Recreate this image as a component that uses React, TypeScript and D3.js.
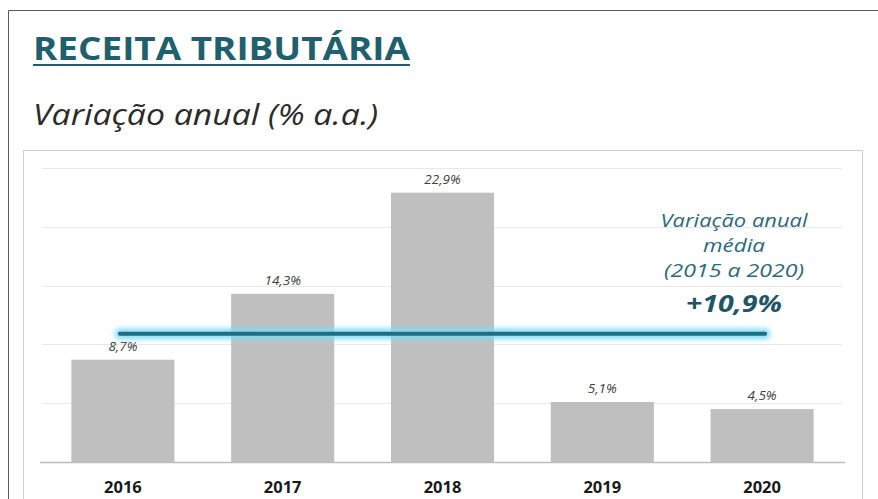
import { useEffect, useRef } from 'react';
import * as d3 from 'd3';

const years = ['2016', '2017', '2018', '2019', '2020'];
const growth = [8.7, 14.3, 22.9, 5.1, 4.5];
const gridTicks = [0, 5, 10, 15, 20, 25];
const averageGrowth = 10.9;
const noteLines = ['Variação anual', 'média', '(2015 a 2020)'];

const W = 878;
const H = 499;
const fmt = (v: number) => v.toFixed(1).replace('.', ',') + '%';

export default function App() {
  const svgRef = useRef<SVGSVGElement | null>(null);

  useEffect(() => {
    const svg = d3.select(svgRef.current);
    svg.selectAll('*').remove();

    svg.append('rect').attr('width', W).attr('height', H).attr('fill', '#ffffff');

    // outer frame (left + top)
    svg.append('path')
      .attr('d', `M8.5,${H} V10.5 H${W}`)
      .attr('fill', 'none')
      .attr('stroke', '#5a5a5a')
      .attr('stroke-width', 1);

    // title
    svg.append('text')
      .attr('x', 33)
      .attr('y', 60)
      .attr('fill', '#1f5f6e')
      .style('font-family', '"Open Sans", sans-serif')
      .style('font-weight', '700')
      .style('font-size', '33px')
      .attr('textLength', 377)
      .attr('lengthAdjust', 'spacingAndGlyphs')
      .text('RECEITA TRIBUTÁRIA');
    svg.append('line')
      .attr('x1', 33).attr('x2', 410)
      .attr('y1', 65).attr('y2', 65)
      .attr('stroke', '#1f5f6e')
      .attr('stroke-width', 2);

    svg.append('text')
      .attr('x', 33)
      .attr('y', 125)
      .attr('fill', '#2b2b2b')
      .style('font-family', '"Open Sans", sans-serif')
      .style('font-style', 'italic')
      .style('font-weight', '400')
      .style('font-size', '29px')
      .attr('textLength', 345)
      .attr('lengthAdjust', 'spacingAndGlyphs')
      .text('Variação anual (% a.a.)');

    // inner chart panel
    svg.append('rect')
      .attr('x', 23.5).attr('y', 150.5)
      .attr('width', 839).attr('height', H)
      .attr('fill', '#ffffff')
      .attr('stroke', '#cfcfcf')
      .attr('stroke-width', 1);

    const x = d3.scaleBand<string>()
      .domain(years)
      .range([43, 842])
      .paddingInner(0.355)
      .paddingOuter(0.1775);

    const y = d3.scaleLinear().domain([0, 25]).range([462, 168]);

    svg.append('g')
      .selectAll('line')
      .data(gridTicks.filter(t => t > 0))
      .join('line')
      .attr('x1', 43).attr('x2', 842)
      .attr('y1', d => Math.round(y(d)) + 0.5)
      .attr('y2', d => Math.round(y(d)) + 0.5)
      .attr('stroke', '#e8e8e8')
      .attr('stroke-width', 1);

    svg.append('g')
      .selectAll('rect')
      .data(growth)
      .join('rect')
      .attr('x', (d, i) => x(years[i])!)
      .attr('y', d => y(d))
      .attr('width', x.bandwidth())
      .attr('height', d => y(0) - y(d))
      .attr('fill', '#bfbfbf');

    // baseline
    svg.append('line')
      .attr('x1', 40).attr('x2', 845)
      .attr('y1', y(0) + 0.5).attr('y2', y(0) + 0.5)
      .attr('stroke', '#bdbdbd')
      .attr('stroke-width', 1.5);

    svg.append('g')
      .selectAll('text')
      .data(growth)
      .join('text')
      .attr('x', (d, i) => x(years[i])! + x.bandwidth() / 2)
      .attr('y', d => y(d) - 9)
      .attr('text-anchor', 'middle')
      .attr('fill', '#404040')
      .style('font-family', '"Open Sans", sans-serif')
      .style('font-style', 'italic')
      .style('font-size', '13.5px')
      .text(d => fmt(d));

    svg.append('g')
      .selectAll('text')
      .data(years)
      .join('text')
      .attr('x', d => x(d)! + x.bandwidth() / 2)
      .attr('y', 493)
      .attr('text-anchor', 'middle')
      .attr('fill', '#1a1a1a')
      .style('font-family', '"Open Sans", sans-serif')
      .style('font-weight', '700')
      .style('font-size', '16.5px')
      .text(d => d);

    // average line with glow
    const defs = svg.append('defs');
    const blur = defs.append('filter').attr('id', 'glow')
      .attr('filterUnits', 'userSpaceOnUse')
      .attr('x', 0).attr('y', 300).attr('width', W).attr('height', 70);
    blur.append('feGaussianBlur').attr('stdDeviation', 2.5);

    const ax1 = x(years[0])! + x.bandwidth() / 2 - 3;
    const ax2 = x(years[years.length - 1])! + x.bandwidth() / 2 + 3;
    const ay = y(averageGrowth);
    svg.append('line')
      .attr('x1', ax1).attr('x2', ax2)
      .attr('y1', ay).attr('y2', ay)
      .attr('stroke', '#7fdcf5')
      .attr('stroke-width', 11)
      .attr('stroke-linecap', 'round')
      .attr('opacity', 0.9)
      .attr('filter', 'url(#glow)');
    svg.append('line')
      .attr('x1', ax1).attr('x2', ax2)
      .attr('y1', ay).attr('y2', ay)
      .attr('stroke', '#1e6f84')
      .attr('stroke-width', 4)
      .attr('stroke-linecap', 'round');

    // annotation
    const noteX = 734;
    svg.append('g')
      .selectAll('text')
      .data(noteLines)
      .join('text')
      .attr('x', noteX)
      .attr('y', (d, i) => 227 + i * 25)
      .attr('text-anchor', 'middle')
      .attr('fill', '#2a6a7d')
      .style('font-family', '"Open Sans", sans-serif')
      .style('font-style', 'italic')
      .style('font-weight', '400')
      .style('font-size', '19px')
      .attr('textLength', (d, i) => [147, 62, 140][i])
      .attr('lengthAdjust', 'spacingAndGlyphs')
      .text(d => d);

    svg.append('text')
      .attr('x', noteX)
      .attr('y', 312)
      .attr('text-anchor', 'middle')
      .attr('fill', '#1f5566')
      .style('font-family', '"Open Sans", sans-serif')
      .style('font-style', 'italic')
      .style('font-weight', '700')
      .style('font-size', '24px')
      .attr('textLength', 96)
      .attr('lengthAdjust', 'spacingAndGlyphs')
      .text('+' + fmt(averageGrowth));
  }, []);

  return (
    <svg
      ref={svgRef}
      width={W}
      height={H}
      style={{ position: 'absolute', left: 0, top: 0, display: 'block' }}
    />
  );
}
